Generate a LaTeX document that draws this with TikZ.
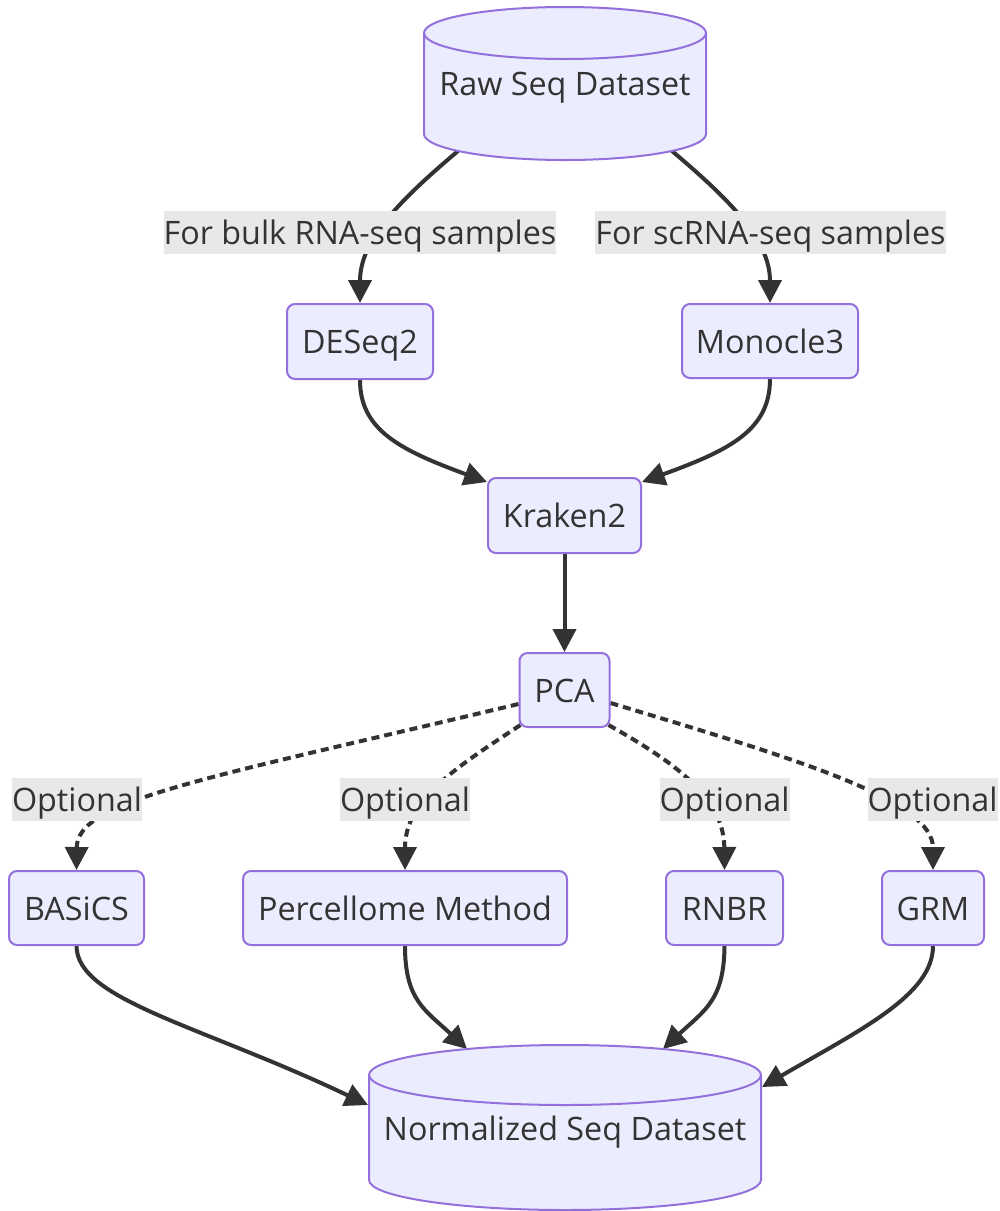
\documentclass[tikz,border=0pt]{standalone}
\usepackage{fontspec}
\setmainfont{Open Sans}
\usetikzlibrary{arrows.meta,calc}
\definecolor{nodefill}{HTML}{ECECFF}
\definecolor{nodeline}{HTML}{9370DB}
\definecolor{edgecol}{HTML}{333333}
\definecolor{lblfill}{HTML}{E8E8E8}
\definecolor{txt}{HTML}{333333}
\pgfdeclarelayer{bg}
\pgfsetlayers{bg,main}
\begin{document}
\begin{tikzpicture}[x=1pt,y=1pt,
  font=\fontsize{32.3}{38}\selectfont, text=txt,
  box/.style={draw=nodeline, fill=nodefill, line width=2pt, rounded corners=8pt, inner sep=0pt, text height=24pt, text depth=0pt, minimum height=74pt},
  lbl/.style={fill=lblfill, inner sep=0pt, minimum height=43pt, text height=24pt, text depth=0pt},
  ghost/.style={inner sep=0pt, text height=24pt, text depth=0pt},
  cyl/.style={draw=nodeline, fill=nodefill, line width=2pt},
  edge/.style={draw=edgecol, line width=4pt, -{Triangle[length=23pt,width=23pt]}},
  dedge/.style={edge, dash pattern=on 8pt off 5pt},
]
\useasboundingbox (0,0) rectangle (1000,-1211);

% cylinders
\path[cyl] (424,-33) -- (424,-134) arc[start angle=180,end angle=360,x radius=141,y radius=26] -- (706,-33) arc[start angle=0,end angle=180,x radius=141,y radius=26] -- cycle;
\draw[cyl, fill=none] (424,-33) arc[start angle=180,end angle=360,x radius=141,y radius=26];
\node[ghost] (raw) at (565,-83) {Raw Seq Dataset};
\coordinate (rawL) at (458,-151);
\coordinate (rawR) at (672,-151);

\path[cyl] (369,-1075) -- (369,-1180) arc[start angle=180,end angle=360,x radius=196,y radius=30] -- (761,-1075) arc[start angle=0,end angle=180,x radius=196,y radius=30] -- cycle;
\draw[cyl, fill=none] (369,-1075) arc[start angle=180,end angle=360,x radius=196,y radius=30];
\node[ghost] (norm) at (565,-1128) {Normalized Seq Dataset};
\coordinate (normA) at (368,-1105);
\coordinate (normB) at (467,-1049);
\coordinate (normC) at (663,-1049);
\coordinate (normD) at (762,-1087);

% nodes
\node[lbl, minimum width=392pt] (l1) at (360,-232.5) {For bulk RNA-seq samples};
\node[lbl, minimum width=349pt] (l2) at (770.5,-232.5) {For scRNA-seq samples};
\node[box, minimum width=146pt, minimum height=75pt] (deseq) at (360,-341.5) {DESeq2};
\node[box, minimum width=176pt] (mono) at (770,-341) {Monocle3};
\node[box, minimum width=153pt, minimum height=75pt] (kraken) at (564.5,-515.5) {Kraken2};
\node[box, minimum width=90pt] (pca) at (564.5,-690) {PCA};
\node[lbl, minimum width=130pt] (o1) at (77,-799) {Optional};
\node[lbl, minimum width=130pt] (o2) at (405,-799) {Optional};
\node[lbl, minimum width=130pt] (o3) at (724.5,-799) {Optional};
\node[lbl, minimum width=130pt] (o4) at (932.5,-799) {Optional};
\node[box, minimum width=135pt] (basics) at (76.5,-908) {BASiCS};
\node[box, minimum width=324pt] (perc) at (405,-908) {Percellome Method};
\node[box, minimum width=117pt] (rnbr) at (724.5,-908) {RNBR};
\node[box, minimum width=102pt] (grm) at (933,-908) {GRM};

% edges
\begin{pgfonlayer}{bg}
\draw[edge] (rawL) .. controls (400,-200) and (360,-240) .. (deseq.north);
\draw[edge] (rawR) .. controls (730,-200) and (770,-240) .. (mono.north);
\draw[edge] (deseq.south) .. controls (360,-430) and (400,-450) .. ($(kraken.north west)+(0,-5)$);
\draw[edge] (mono.south) .. controls (770,-430) and (730,-450) .. ($(kraken.north east)+(0,-5)$);
\draw[edge] (kraken.south) -- (pca.north);
\draw[dedge] ($(pca.west)+(0,-14)$) .. controls (200,-780) and (77,-800) .. (basics.north);
\draw[dedge] ($(pca.south west)+(2,3)$) .. controls (455,-768) and (405,-800) .. (perc.north);
\draw[dedge] ($(pca.south east)+(-2,3)$) .. controls (680,-765) and (724,-800) .. (rnbr.north);
\draw[dedge] ($(pca.east)+(0,-13)$) .. controls (800,-760) and (933,-800) .. (grm.north);
\draw[edge] (basics.south) .. controls (77,-1000) and (200,-1025) .. (normA);
\draw[edge] (perc.south) .. controls (405,-1000) and (425,-1010) .. (normB);
\draw[edge] (rnbr.south) .. controls (724,-1000) and (705,-1010) .. (normC);
\draw[edge] (grm.south) .. controls (933,-995) and (860,-1030) .. (normD);
\end{pgfonlayer}
\end{tikzpicture}
\end{document}
